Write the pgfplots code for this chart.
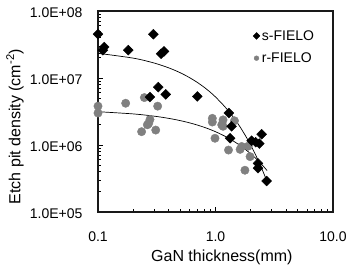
\documentclass[border=0pt]{standalone}
\usepackage{pgfplots}
\pgfplotsset{compat=1.18}
\usepackage{fontspec}
\setmainfont{Liberation Sans}

\definecolor{rgrey}{RGB}{128,128,128}

% s-FIELO samples: thickness (mm), etch pit density (cm^-2)
\pgfplotstableread{
x     y
0.100 4.5e7
0.113 2.9e7
0.110 2.6e7
0.181 2.6e7
0.296 4.5e7
0.365 2.5e7
0.344 2.3e7
0.326 7.3e6
0.277 5.2e6
0.377 5.7e6
0.70  5.3e6
1.30  3.0e6
1.37  1.9e6
1.33  1.26e6
2.47  1.45e6
2.03  1.16e6
2.20  1.10e6
2.36  1.05e6
2.30  5.3e5
2.30  4.5e5
2.72  2.9e5
}\sdata

% r-FIELO samples
\pgfplotstableread{
x     y
0.100 3.8e6
0.100 3.0e6
0.172 4.2e6
0.248 5.1e6
0.322 3.8e6
0.277 2.4e6
0.270 2.1e6
0.263 2.0e6
0.235 1.58e6
0.310 1.67e6
0.94  2.5e6
0.94  2.2e6
1.16  2.37e6
1.45  2.3e6
1.13  2.0e6
1.16  1.9e6
0.99  1.26e6
1.29  8.4e5
1.62  8.6e5
1.67  9.5e5
1.90  9.6e5
1.97  6.7e5
1.78  4.2e5
}\rdata

% exponential trend lines
\pgfplotstableread{
x    y
0.1  2.336e7
0.2  1.978e7
0.3  1.674e7
0.4  1.417e7
0.5  1.200e7
0.6  1.015e7
0.7  8.59e6
0.8  7.28e6
0.9  6.16e6
1.0  5.21e6
1.2  3.73e6
1.4  2.68e6
1.6  1.92e6
1.8  1.374e6
2.0  9.85e5
2.2  7.06e5
2.4  5.06e5
2.6  3.62e5
2.75 2.82e5
}\sfit

\pgfplotstableread{
x    y
0.1  3.14e6
0.2  2.909e6
0.3  2.695e6
0.4  2.497e6
0.5  2.313e6
0.6  2.143e6
0.7  1.986e6
0.8  1.840e6
0.9  1.704e6
1.0  1.579e6
1.2  1.355e6
1.4  1.163e6
1.6  9.98e5
1.8  8.57e5
2.0  7.35e5
2.2  6.31e5
2.4  5.42e5
2.6  4.65e5
2.75 4.15e5
}\rfit

\begin{document}
\begin{tikzpicture}
\begin{loglogaxis}[
  scale only axis,
  width=235pt, height=201pt,
  xmin=0.1, xmax=10, ymin=1e5, ymax=1e8,
  xtick={0.1,1,10}, xticklabels={0.1,1.0,10.0},
  ytick={1e5,1e6,1e7,1e8},
  yticklabels={1.0E+05,1.0E+06,1.0E+07,1.0E+08},
  tick pos=left, tick align=inside,
  major tick length=5pt, minor tick length=3pt,
  every tick/.style={black, line width=0.8pt},
  axis line style={black!90, line width=1.1pt},
  ticklabel style={font=\fontsize{14}{16}\selectfont},
  xticklabel style={yshift=-16pt},
  yticklabel style={xshift=-12pt, yshift=-1.5pt},
  xlabel={GaN thickness(mm)},
  ylabel={Etch pit density (cm\textsuperscript{-2})},
  label style={font=\fontsize{16}{18}\selectfont},
  xlabel style={at={(axis description cs:0.527,-0.244)}, anchor=base},
  ylabel style={at={(axis description cs:-0.353,0.425)}, anchor=center},
  reverse legend,
  legend cell align=left,
  legend style={draw=none, fill=none, font=\fontsize{14}{16}\selectfont,
    at={(axis description cs:0.655,0.92)}, anchor=north west,
    row sep=7pt, inner sep=1pt},
  legend image code/.code={\draw[#1, mark size=2.4pt] plot coordinates {(0pt,0pt)};},
]
\addplot[only marks, mark=*, mark size=4.2pt, color=rgrey,
  mark options={draw=rgrey, fill=rgrey}] table {\rdata};
\addlegendentry{r-FIELO}
\addplot[only marks, mark=square*, mark size=3.5pt, color=black,
  mark options={rotate=45, fill=black}] table {\sdata};
\addlegendentry{s-FIELO}
\addplot[black, line width=0.7pt, smooth, forget plot] table {\sfit};
\addplot[black, line width=0.7pt, smooth, forget plot] table {\rfit};
\coordinate (bl) at (rel axis cs:0,0);
\coordinate (tr) at (rel axis cs:1,1);
\end{loglogaxis}
\pgfresetboundingbox
\path ([shift={(-98pt,-54pt)}]bl) rectangle ([shift={(13pt,11pt)}]tr);
\end{tikzpicture}
\end{document}
